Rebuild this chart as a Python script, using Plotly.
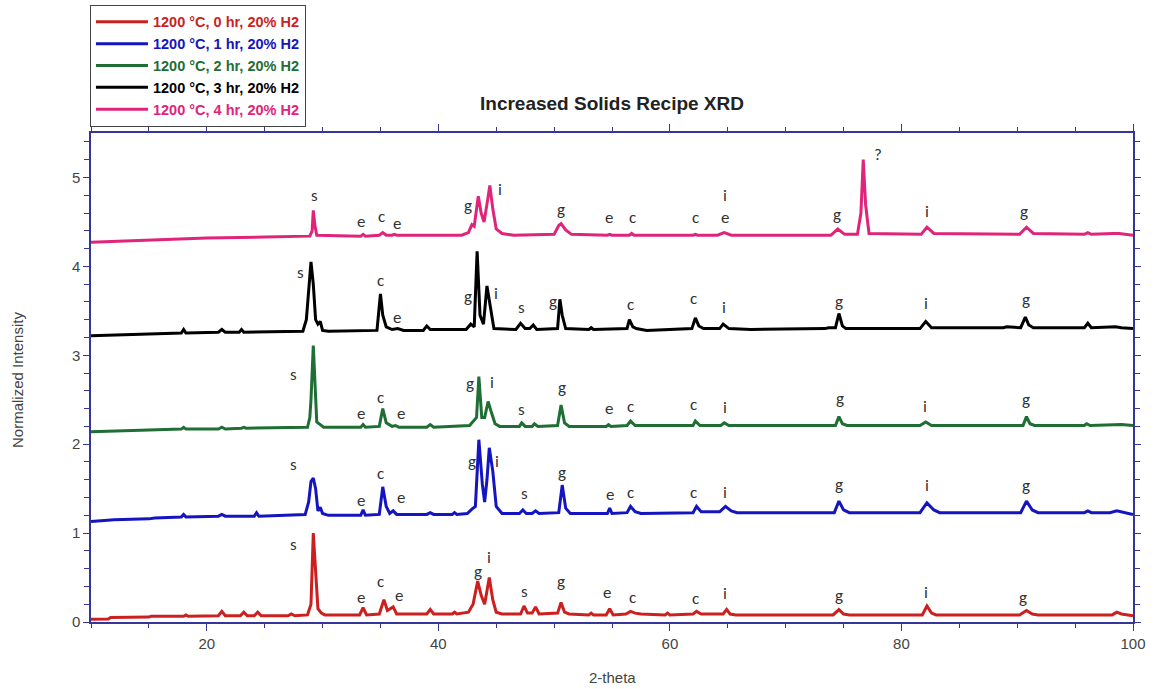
import plotly.graph_objects as go

# ---------------- data ----------------
series_names = [
    "1200 °C, 0 hr, 20% H2",
    "1200 °C, 1 hr, 20% H2",
    "1200 °C, 2 hr, 20% H2",
    "1200 °C, 3 hr, 20% H2",
    "1200 °C, 4 hr, 20% H2",
]
series_colors = ["#cc1f1f", "#1414c0", "#1f6e34", "#000000", "#e0247a"]

pts_0hr = [(10, 0.03), (11.5, 0.035), (11.7, 0.05), (15, 0.055), (15.2, 0.065), (18, 0.065), (18.2, 0.08),
           (18.4, 0.065), (21, 0.07), (21.3, 0.12), (21.6, 0.07), (22.9, 0.07), (23.2, 0.11), (23.5, 0.07),
           (24.1, 0.07), (24.4, 0.11), (24.7, 0.07), (27, 0.07), (27.3, 0.09), (27.6, 0.07), (28.7, 0.08),
           (29.0, 0.2), (29.2, 1.0), (29.4, 0.55), (29.6, 0.15), (29.9, 0.1), (30.2, 0.08), (33.2, 0.08),
           (33.5, 0.16), (33.8, 0.08), (34.9, 0.09), (35.3, 0.25), (35.6, 0.13), (36.1, 0.17), (36.4, 0.09),
           (39.0, 0.09), (39.3, 0.14), (39.6, 0.09), (41.2, 0.09), (41.4, 0.11), (41.6, 0.09), (42.6, 0.11),
           (43.0, 0.2), (43.4, 0.46), (43.7, 0.3), (44.0, 0.2), (44.4, 0.5), (44.7, 0.25), (45.0, 0.11),
           (45.5, 0.09), (47.1, 0.09), (47.4, 0.18), (47.7, 0.1), (48.1, 0.1), (48.4, 0.17), (48.7, 0.09),
           (50.3, 0.1), (50.6, 0.22), (50.9, 0.11), (51.3, 0.09), (53.0, 0.08), (53.2, 0.1), (53.4, 0.08),
           (54.5, 0.08), (54.8, 0.15), (55.1, 0.08), (56.2, 0.09), (56.6, 0.12), (57.0, 0.1), (57.5, 0.09),
           (59.6, 0.08), (59.8, 0.1), (60.0, 0.08), (62.0, 0.09), (62.3, 0.12), (62.7, 0.09), (64.6, 0.09),
           (64.9, 0.14), (65.2, 0.09), (65.7, 0.08), (74.1, 0.08), (74.6, 0.14), (75.0, 0.09), (75.5, 0.08),
           (81.8, 0.08), (82.2, 0.18), (82.6, 0.1), (83.0, 0.08), (90.2, 0.08), (90.8, 0.13), (91.3, 0.09),
           (91.8, 0.08), (98.2, 0.08), (98.6, 0.11), (99.0, 0.09), (100, 0.07)]

pts_1hr = [(10, 1.13), (11.5, 1.14), (12, 1.15), (15, 1.16), (15.5, 1.17), (17.8, 1.18), (18.0, 1.21),
           (18.2, 1.18), (21, 1.19), (21.3, 1.21), (21.6, 1.19), (24.1, 1.19), (24.3, 1.23), (24.5, 1.19),
           (27, 1.2), (28.5, 1.21), (28.8, 1.35), (29.0, 1.58), (29.2, 1.62), (29.4, 1.5), (29.6, 1.25),
           (29.8, 1.29), (30.0, 1.22), (30.5, 1.2), (33.3, 1.2), (33.5, 1.26), (33.7, 1.2), (34.9, 1.21),
           (35.2, 1.52), (35.5, 1.3), (35.8, 1.22), (36.1, 1.25), (36.4, 1.21), (39.0, 1.21), (39.3, 1.23),
           (39.6, 1.21), (41.2, 1.21), (41.4, 1.23), (41.6, 1.21), (42.5, 1.22), (42.9, 1.27), (43.2, 1.3),
           (43.5, 2.05), (43.8, 1.55), (44.0, 1.35), (44.2, 1.6), (44.4, 1.96), (44.7, 1.7), (45.0, 1.3),
           (45.5, 1.22), (47.0, 1.22), (47.3, 1.26), (47.6, 1.22), (48.1, 1.22), (48.4, 1.25), (48.7, 1.22),
           (50.4, 1.23), (50.7, 1.54), (51.0, 1.28), (51.4, 1.22), (54.6, 1.22), (54.8, 1.28), (55.0, 1.22),
           (56.3, 1.23), (56.6, 1.3), (57.0, 1.24), (57.5, 1.22), (62.0, 1.23), (62.3, 1.3), (62.7, 1.24),
           (64.3, 1.24), (64.8, 1.3), (65.3, 1.25), (65.8, 1.23), (74.2, 1.23), (74.6, 1.36), (75.0, 1.26),
           (75.5, 1.23), (81.6, 1.23), (82.2, 1.34), (82.8, 1.26), (83.3, 1.23), (90.3, 1.23), (90.8, 1.36),
           (91.3, 1.26), (91.8, 1.23), (95.8, 1.23), (96.1, 1.25), (96.4, 1.23), (98.0, 1.23), (98.6, 1.25),
           (99.2, 1.23), (100, 1.21)]

pts_2hr = [(10, 2.14), (12, 2.15), (15, 2.16), (17.8, 2.17), (18.0, 2.19), (18.2, 2.17), (21, 2.17),
           (21.3, 2.19), (21.6, 2.17), (23, 2.18), (23.2, 2.19), (23.4, 2.18), (28.7, 2.19), (28.9, 2.3),
           (29.0, 2.5), (29.2, 3.11), (29.35, 2.6), (29.5, 2.25), (29.8, 2.22), (30.1, 2.19), (33.3, 2.19),
           (33.5, 2.22), (33.7, 2.19), (34.9, 2.2), (35.2, 2.4), (35.5, 2.24), (36.0, 2.2), (36.3, 2.21),
           (36.6, 2.19), (39.0, 2.19), (39.3, 2.22), (39.6, 2.19), (42.7, 2.21), (43.0, 2.25), (43.3, 2.3),
           (43.5, 2.76), (43.75, 2.3), (44.0, 2.3), (44.3, 2.48), (44.6, 2.35), (44.9, 2.23), (45.3, 2.2),
           (47.0, 2.2), (47.2, 2.24), (47.5, 2.2), (48.1, 2.2), (48.3, 2.23), (48.6, 2.2), (50.3, 2.21),
           (50.6, 2.44), (50.9, 2.24), (51.3, 2.2), (54.5, 2.2), (54.7, 2.22), (54.9, 2.2), (56.3, 2.21),
           (56.6, 2.26), (57.0, 2.21), (62.0, 2.21), (62.2, 2.26), (62.6, 2.21), (64.4, 2.21), (64.7, 2.24),
           (65.1, 2.21), (74.3, 2.21), (74.6, 2.31), (74.9, 2.23), (75.3, 2.21), (81.6, 2.21), (82.1, 2.25),
           (82.6, 2.21), (90.5, 2.21), (90.8, 2.31), (91.1, 2.23), (91.5, 2.21), (95.8, 2.21), (96.0, 2.23),
           (96.3, 2.21), (98.5, 2.22), (99.0, 2.22), (100, 2.21)]

pts_3hr = [(10, 3.22), (12, 3.23), (15, 3.24), (17.8, 3.25), (18.0, 3.29), (18.2, 3.25), (21, 3.26),
           (21.3, 3.29), (21.6, 3.26), (22.8, 3.26), (23.0, 3.29), (23.2, 3.26), (28.3, 3.27), (28.6, 3.4),
           (28.8, 3.75), (29.0, 4.05), (29.2, 3.8), (29.4, 3.4), (29.6, 3.35), (29.8, 3.38), (30.0, 3.28),
           (30.5, 3.27), (34.7, 3.28), (34.9, 3.55), (35.0, 3.69), (35.2, 3.45), (35.5, 3.32), (36.0, 3.29),
           (36.5, 3.3), (37, 3.28), (38.7, 3.28), (39.0, 3.33), (39.3, 3.29), (42.4, 3.29), (42.8, 3.35),
           (43.1, 3.32), (43.35, 4.17), (43.6, 3.45), (43.9, 3.35), (44.2, 3.78), (44.5, 3.55), (44.8, 3.3),
           (46.7, 3.29), (47.1, 3.36), (47.5, 3.3), (47.9, 3.3), (48.2, 3.34), (48.5, 3.29), (50.3, 3.3),
           (50.5, 3.63), (50.7, 3.45), (51.0, 3.3), (53.0, 3.29), (53.2, 3.31), (53.4, 3.29), (56.3, 3.3),
           (56.5, 3.4), (56.8, 3.32), (57.1, 3.3), (58, 3.28), (61.9, 3.3), (62.2, 3.42), (62.5, 3.33),
           (62.9, 3.3), (64.3, 3.3), (64.6, 3.35), (65.1, 3.3), (67, 3.29), (73.4, 3.3), (73.7, 3.31),
           (74.3, 3.31), (74.6, 3.47), (74.9, 3.33), (75.2, 3.3), (81.6, 3.3), (82.1, 3.38), (82.6, 3.31),
           (88.8, 3.31), (89.1, 3.32), (90.3, 3.31), (90.7, 3.43), (91.0, 3.34), (91.4, 3.31), (95.8, 3.31),
           (96.1, 3.36), (96.4, 3.31), (98.5, 3.32), (99.0, 3.31), (100, 3.3)]

pts_4hr = [(10, 4.27), (12, 4.28), (14, 4.29), (17, 4.31), (20, 4.32), (25, 4.33), (28.9, 4.34),
           (29.1, 4.4), (29.2, 4.63), (29.35, 4.45), (29.5, 4.35), (33.3, 4.34), (33.5, 4.36), (33.7, 4.34),
           (34.9, 4.35), (35.2, 4.38), (35.5, 4.35), (36.0, 4.35), (36.2, 4.36), (36.4, 4.35), (42.0, 4.35),
           (42.6, 4.38), (42.9, 4.47), (43.1, 4.45), (43.45, 4.79), (43.7, 4.6), (43.95, 4.5), (44.2, 4.7),
           (44.45, 4.91), (44.7, 4.65), (45.0, 4.42), (45.5, 4.37), (46.5, 4.35), (50.0, 4.36), (50.4, 4.46),
           (50.6, 4.48), (51.0, 4.41), (51.5, 4.36), (54.6, 4.35), (54.8, 4.36), (55.0, 4.35), (56.5, 4.35),
           (56.7, 4.37), (56.9, 4.35), (62.0, 4.35), (62.2, 4.36), (62.4, 4.35), (64.1, 4.35), (64.7, 4.38),
           (65.3, 4.35), (73.9, 4.35), (74.5, 4.42), (75.1, 4.36), (76.2, 4.36), (76.5, 4.6), (76.7, 5.2),
           (76.9, 4.7), (77.2, 4.37), (81.7, 4.36), (82.2, 4.44), (82.8, 4.37), (90.2, 4.36), (90.8, 4.44),
           (91.4, 4.37), (95.8, 4.36), (96.1, 4.38), (96.4, 4.36), (98.3, 4.37), (98.8, 4.37), (100, 4.35)]

series_points = [pts_0hr, pts_1hr, pts_2hr, pts_3hr, pts_4hr]

# phase labels: (2-theta, height, letter)
labels_0hr = [(27.5, 0.87, "s"), (33.3, 0.28, "e"), (35.0, 0.46, "c"), (36.6, 0.30, "e"), (43.4, 0.57, "g"),
              (44.4, 0.73, "i"), (47.4, 0.34, "s"), (50.6, 0.45, "g"), (54.6, 0.33, "e"), (56.8, 0.28, "c"),
              (62.2, 0.26, "c"), (64.8, 0.32, "i"), (74.6, 0.30, "g"), (82.1, 0.33, "i"), (90.5, 0.28, "g")]
labels_1hr = [(27.5, 1.77, "s"), (33.3, 1.37, "e"), (35.0, 1.67, "c"), (36.8, 1.40, "e"), (42.9, 1.80, "g"),
              (45.1, 1.80, "i"), (47.4, 1.44, "s"), (50.7, 1.68, "g"), (54.8, 1.43, "e"), (56.6, 1.46, "c"),
              (62.0, 1.46, "c"), (64.8, 1.46, "i"), (74.6, 1.55, "g"), (82.2, 1.53, "i"), (90.8, 1.54, "g")]
labels_2hr = [(27.5, 2.78, "s"), (33.3, 2.34, "e"), (35.0, 2.52, "c"), (36.8, 2.34, "e"), (42.7, 2.68, "g"),
              (44.6, 2.69, "i"), (47.2, 2.39, "s"), (50.7, 2.64, "g"), (54.7, 2.40, "e"), (56.6, 2.42, "c"),
              (62.0, 2.45, "c"), (64.8, 2.41, "i"), (74.7, 2.51, "g"), (82.0, 2.42, "i"), (90.8, 2.50, "g")]
labels_3hr = [(28.1, 3.93, "s"), (35.0, 3.84, "c"), (36.4, 3.42, "e"), (42.6, 3.66, "g"), (45.0, 3.69, "i"),
              (47.2, 3.54, "s"), (49.9, 3.61, "g"), (56.6, 3.57, "c"), (62.0, 3.64, "c"), (64.7, 3.54, "i"),
              (74.6, 3.61, "g"), (82.1, 3.58, "i"), (90.8, 3.63, "g")]
labels_4hr = [(29.3, 4.80, "s"), (33.3, 4.50, "e"), (35.1, 4.56, "c"), (36.4, 4.48, "e"), (42.6, 4.68, "g"),
              (45.3, 4.86, "i"), (50.6, 4.64, "g"), (54.7, 4.55, "e"), (56.8, 4.55, "c"), (62.2, 4.55, "c"),
              (64.8, 4.80, "i"), (64.8, 4.55, "e"), (74.4, 4.58, "g"), (78.0, 5.26, "?"), (82.2, 4.62, "i"),
              (90.6, 4.62, "g")]
all_labels = labels_0hr + labels_1hr + labels_2hr + labels_3hr + labels_4hr

x_range = [10, 100]
y_range = [0, 5.5]
x_tickvals = [20, 40, 60, 80, 100]
y_tickvals = [0, 1, 2, 3, 4, 5]

# ---------------- figure ----------------
fig = go.Figure()
for name, color, pts in zip(series_names, series_colors, series_points):
    xs = [p[0] for p in pts]
    ys = [p[1] for p in pts]
    fig.add_trace(go.Scatter(
        x=xs, y=ys, mode="lines", line=dict(color=color, width=3),
        name=f"<b><span style='color:{color}'>{name}</span></b>",
    ))

for lx, ly, txt in all_labels:
    fig.add_annotation(x=lx, y=ly, text=txt, showarrow=False, xanchor="center", yanchor="middle",
                       font=dict(family="Carlito, Calibri, Open Sans, sans-serif", size=17, color="#333333"))

axis_col = "#35359a"
tick_font = dict(family="Arial, Liberation Sans, sans-serif", size=15, color="#444444")
fig.update_xaxes(range=x_range, tickvals=x_tickvals, showline=True, linecolor=axis_col, linewidth=1.5,
                 mirror="ticks", ticks="outside", ticklen=7, tickcolor=axis_col, tickwidth=1.3,
                 minor=dict(dtick=5, tick0=0, ticks="outside", ticklen=4, tickcolor=axis_col, tickwidth=1.2),
                 showgrid=False, zeroline=False, tickfont=tick_font)
fig.update_yaxes(range=y_range, tickvals=y_tickvals, showline=True, linecolor=axis_col, linewidth=1.5,
                 mirror="ticks", ticks="outside", ticklen=6, tickcolor=axis_col, tickwidth=1.3,
                 minor=dict(dtick=0.2, tick0=0, ticks="outside", ticklen=5, tickcolor=axis_col, tickwidth=1.2),
                 showgrid=False, zeroline=False, tickfont=tick_font)

fig.add_annotation(text="2-theta", xref="paper", yref="paper", x=0.5, y=-0.113, showarrow=False,
                   xanchor="center", yanchor="middle",
                   font=dict(family="Arial, Liberation Sans, sans-serif", size=15, color="#444444"))
fig.add_annotation(text="Normalized Intensity", xref="paper", yref="paper", x=-0.07, y=0.495,
                   showarrow=False, textangle=-90, xanchor="center", yanchor="middle",
                   font=dict(family="Arial, Liberation Sans, sans-serif", size=15, color="#444444"))

fig.update_layout(
    width=1155, height=689,
    margin=dict(l=91, r=22, t=133, b=67, autoexpand=False),
    plot_bgcolor="white", paper_bgcolor="white",
    title=dict(text="<b>Increased Solids Recipe XRD</b>", x=0.5, xref="paper", y=1 - 103 / 689,
               yref="container", xanchor="center", yanchor="middle",
               font=dict(family="Arial, Liberation Sans, sans-serif", size=19, color="#222222")),
    legend=dict(x=-0.001, y=1.262, xanchor="left", yanchor="top", bordercolor="#444444", borderwidth=1,
                bgcolor="white", font=dict(family="Arial, Liberation Sans, sans-serif", size=14.5),
                itemwidth=52, tracegroupgap=0),
    showlegend=True,
)

fig.write_html("out.html", config={"displayModeBar": False},
               post_script="document.body.style.margin='0';document.body.style.padding='0';"
                           "document.body.style.overflow='hidden';")
